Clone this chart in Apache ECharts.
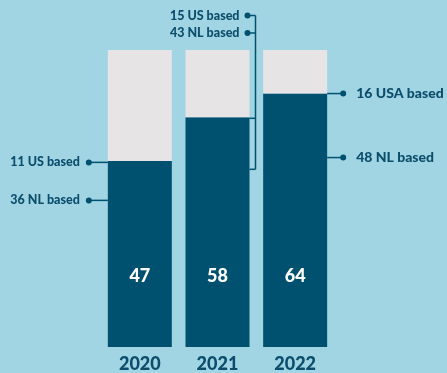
<!DOCTYPE html>
<html><head><meta charset="utf-8">
<script src="https://cdn.jsdelivr.net/npm/echarts@6/dist/echarts.min.js"></script>
<style>html,body{margin:0;padding:0;background:#a1d5e3;}#c{width:447px;height:373px;}</style>
</head><body><div id="c"></div>
<script>
const years = ['2020', '2021', '2022'];
const totals = [47, 58, 64];
const usBased = [11, 15, 16];
const nlBased = [36, 43, 48];
const usLabels = ['11 US based', '15 US based', '16 USA based'];
const nlLabels = ['36 NL based', '43 NL based', '48 NL based'];
const scaleMax = 75;
const remainder = totals.map(v => scaleMax - v);

const DARK = '#00506f', GREY = '#e6e4e5', TXT = '#0b4d6c';
const FONT = 'Lato';
const chart = echarts.init(document.getElementById('c'), null, {renderer: 'canvas'});
chart.setOption({
  backgroundColor: '#a1d5e3',
  animation: false,
  grid: {left: 101, width: 233, top: 50, bottom: 26},
  xAxis: {type: 'category', data: years, axisLine: {show: false}, axisTick: {show: false},
    axisLabel: {color: TXT, fontSize: 18, fontWeight: 900, fontFamily: FONT, margin: 8}},
  yAxis: {type: 'value', min: 0, max: scaleMax, show: false},
  series: [
    {type: 'bar', stack: 's', data: totals, barWidth: 64, itemStyle: {color: DARK},
     label: {show: true, position: 'insideBottom', distance: 62, color: '#fff', fontSize: 18, fontWeight: 900, fontFamily: FONT}},
    {type: 'bar', stack: 's', data: remainder, barWidth: 64, itemStyle: {color: GREY}}
  ]
});

const px = (i) => chart.convertToPixel({xAxisIndex: 0}, years[i]);
const py = (v) => chart.convertToPixel({yAxisIndex: 0}, v);
const half = 32;
const g = [];
const line = (x1, y1, x2, y2) => g.push({type: 'line', shape: {x1, y1, x2, y2}, style: {stroke: DARK, lineWidth: 1.5}});
const dot = (x, y) => g.push({type: 'circle', shape: {cx: x, cy: y, r: 3}, style: {fill: DARK}});
const txt = (x, y, t, align, size) => g.push({type: 'text', x, y, style: {text: t, fill: TXT, font: '900 ' + size + 'px ' + FONT, textAlign: align, textVerticalAlign: 'middle'}});

// 2020 (left side)
{
  const xl = px(0) - half, yt = py(totals[0]) + 1.5;
  line(xl, yt, xl - 19, yt); dot(xl - 19, yt); txt(xl - 28, yt, usLabels[0], 'right', 12.5);
  const y2 = yt + 38;
  line(xl, y2, xl - 19, y2); dot(xl - 19, y2); txt(xl - 28, y2, nlLabels[0], 'right', 12.5);
}
// 2021 (bracket up top)
{
  const xr = px(1) + half, yt = py(totals[1]) + 1;
  const vx = xr + 6, yTop = 15.5, yBot = yt + 51;
  line(xr, yt, vx, yt); line(xr, yBot, vx, yBot); line(vx, yTop, vx, yBot);
  line(vx, yTop, vx - 8, yTop); dot(vx - 8, yTop); txt(vx - 16, yTop, usLabels[1], 'right', 12.5);
  const y2 = yTop + 17.5;
  line(vx, y2, vx - 8, y2); dot(vx - 8, y2); txt(vx - 16, y2, nlLabels[1], 'right', 12.5);
}
// 2022 (right side)
{
  const xr = px(2) + half, yt = py(totals[2]);
  line(xr, yt, xr + 16, yt); dot(xr + 16, yt); txt(xr + 29, yt, usLabels[2], 'left', 14);
  const y2 = yt + 64;
  line(xr, y2, xr + 16, y2); dot(xr + 16, y2); txt(xr + 29, y2, nlLabels[2], 'left', 14);
}
chart.setOption({graphic: {elements: g}});
</script></body></html>
